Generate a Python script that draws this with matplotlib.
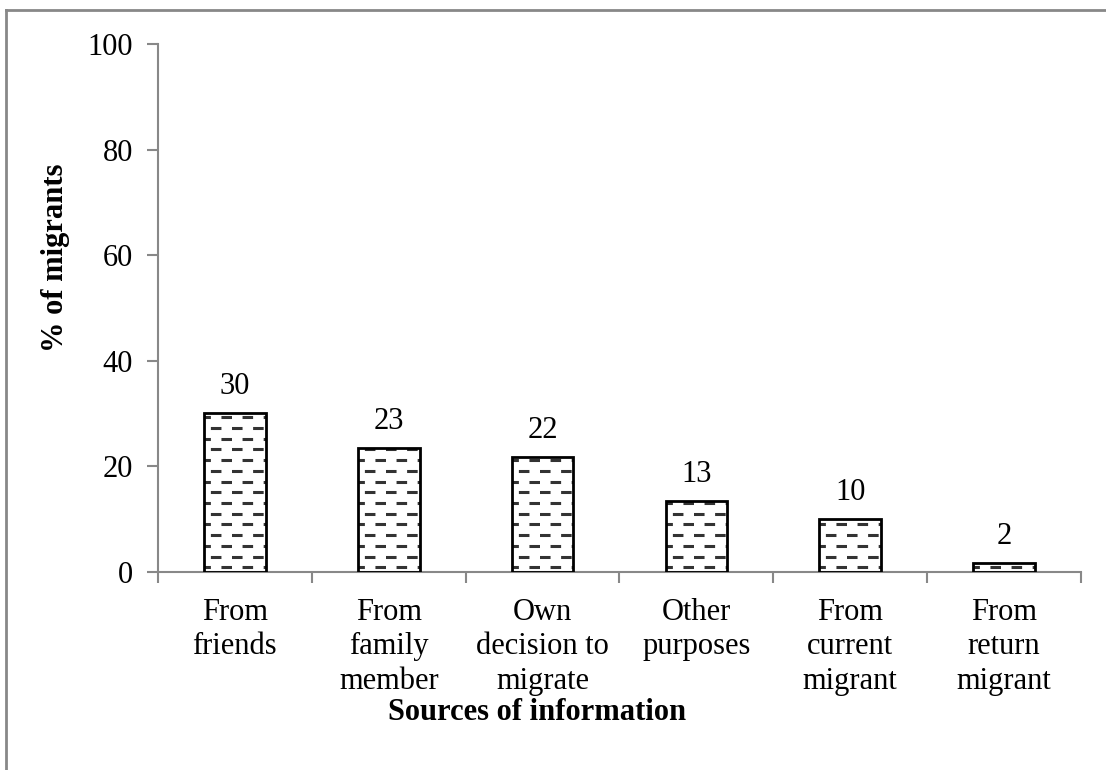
import numpy as np
import matplotlib
matplotlib.use("Agg")
import matplotlib.pyplot as plt
from matplotlib.lines import Line2D

categories = ["From\nfriends", "From\nfamily\nmember", "Own\ndecision to\nmigrate",
              "Other\npurposes", "From\ncurrent\nmigrant", "From\nreturn\nmigrant"]
values = [30.1, 23.4, 21.8, 13.4, 10.0, 1.7]
labels = ["30", "23", "22", "13", "10", "2"]
yticks = [0, 20, 40, 60, 80, 100]

plt.rcParams["font.family"] = ["Liberation Serif", "DejaVu Serif"]
plt.rcParams["lines.scale_dashes"] = False
fig = plt.figure(figsize=(11.06, 7.70), dpi=100)
ax = fig.add_axes([158/1106, 1 - 572/770, (1081 - 158)/1106, (572 - 44)/770])

x = np.arange(len(categories))
width = 0.4
# white fill below, dashed pattern in the middle, black outline on top
ax.bar(x, values, width=width, color="white", edgecolor="none", zorder=2)
outlines = ax.bar(x, values, width=width, facecolor="none", edgecolor="black", linewidth=2, zorder=4)

ax.set_xlim(-0.5, len(categories) - 0.5)
ax.set_ylim(0, 100)

# dashed horizontal fill inside each bar, rows staggered by half a period
dash_pt = 7.6
row_step = 2.03
for b in outlines:
    x0, w, h = b.get_x(), b.get_width(), b.get_height()
    k = 0
    y = 0.9
    while y < h:
        off = 3 if k % 2 == 0 else dash_pt + 3
        ln = Line2D([x0, x0 + w], [y, y], color="#333333", lw=2.2,
                    linestyle=(off, (dash_pt, dash_pt)), zorder=3)
        ax.add_line(ln)
        y += row_step
        k += 1

for xi, v, lab in zip(x, values, labels):
    ax.text(xi, v + 2.3, lab, ha="center", va="bottom", fontsize=22)

grey = "#888888"
for s in ["top", "right"]:
    ax.spines[s].set_visible(False)
for s in ["left", "bottom"]:
    ax.spines[s].set_color(grey)
    ax.spines[s].set_linewidth(1.5)

ax.set_yticks(yticks)
ax.set_yticklabels([str(t) for t in yticks], fontsize=22)
ax.tick_params(axis="y", direction="out", length=8, width=1.5, color=grey, pad=10)

ax.set_xticks(np.arange(-0.5, len(categories)), minor=False)
ax.set_xticklabels([])
ax.tick_params(axis="x", direction="out", length=8, width=1.5, color=grey)
for xi, c in zip(x, categories):
    ax.text(xi, -4.9, c, ha="center", va="top", fontsize=22, linespacing=1.25)

fig.text(55/1106, 1 - 258/770, "% of migrants", rotation=90, ha="center", va="center",
         fontsize=22, fontweight="bold")
fig.text(537/1106, 1 - 713/770, "Sources of information", ha="center", va="center",
         fontsize=22, fontweight="bold")

# outer frame (left and top edges)
fig.add_artist(Line2D([6/1106, 6/1106], [0, 1 - 10/770], color=grey, lw=2, transform=fig.transFigure))
fig.add_artist(Line2D([6/1106, 1], [1 - 10/770, 1 - 10/770], color=grey, lw=2, transform=fig.transFigure))

fig.savefig("out.png", dpi=100)
